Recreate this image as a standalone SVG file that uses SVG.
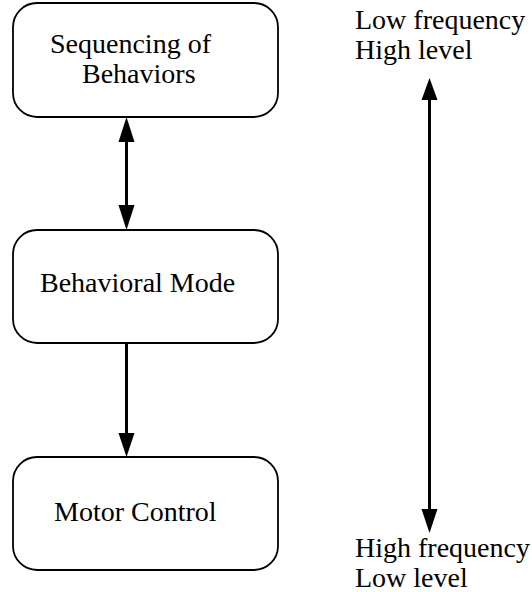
<svg xmlns="http://www.w3.org/2000/svg" width="532" height="592" viewBox="0 0 532 592">
<style>
.box{fill:#fff;stroke:#000;stroke-width:1.8}
.t{font-family:"Liberation Serif","Times New Roman",serif;font-size:28px;fill:#000}
.c{stroke:#000;stroke-width:3;fill:none}
.h{fill:#000}
</style>
<rect width="532" height="592" fill="#fff"/>
<g id="seq">
<rect class="box" x="13" y="3" width="265" height="114" rx="24"/>
<text class="t" x="50" y="53">Sequencing of</text>
<text class="t" x="82" y="83">Behaviors</text>
</g>
<g id="mode">
<rect class="box" x="13" y="230" width="265" height="113" rx="24"/>
<text class="t" x="40" y="292">Behavioral Mode</text>
</g>
<g id="motor">
<rect class="box" x="13" y="457" width="265" height="113" rx="24"/>
<text class="t" x="54" y="520.5">Motor Control</text>
</g>
<g id="scale">
<text class="t" x="355" y="28.5">Low frequency</text>
<text class="t" x="355" y="58.5">High level</text>
<text class="t" x="355" y="557">High frequency</text>
<text class="t" x="355" y="587">Low level</text>
</g>
<g id="connectors">
<line class="c" x1="126.5" y1="138" x2="126.5" y2="210"/>
<polygon class="h" points="126.5,117 118.5,142 134.5,142"/>
<polygon class="h" points="126.5,230 118.5,205 134.5,205"/>
<line class="c" x1="126.5" y1="343" x2="126.5" y2="436"/>
<polygon class="h" points="126.5,457 118.5,433 134.5,433"/>
<line class="c" x1="429.5" y1="96" x2="429.5" y2="512"/>
<polygon class="h" points="429.5,78 421.5,100 437.5,100"/>
<polygon class="h" points="429.5,533 421.5,509 437.5,509"/>
</g>
</svg>
